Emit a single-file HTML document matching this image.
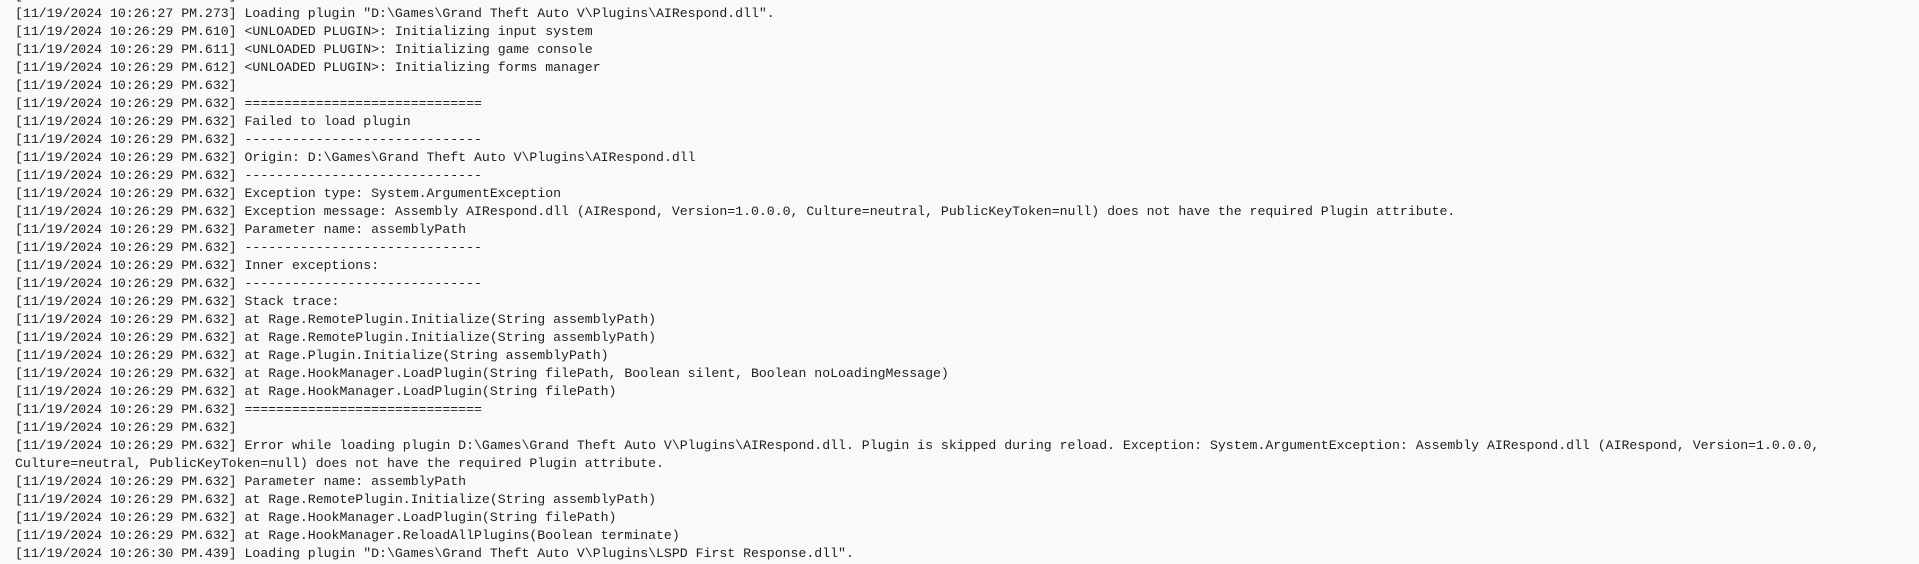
<!DOCTYPE html>
<html><head><meta charset="utf-8"><style>
html,body{margin:0;padding:0;width:1919px;height:564px;overflow:hidden;background:#f9f9f9;}
pre{position:absolute;left:15px;top:-13.5px;margin:0;font-family:"Liberation Mono",monospace;font-size:13.2px;line-height:18px;color:#1e1e1e;white-space:pre;}
</style></head><body><pre>[11/19/2024 10:26:27 PM.271] 
[11/19/2024 10:26:27 PM.273] Loading plugin "D:\Games\Grand Theft Auto V\Plugins\AIRespond.dll".
[11/19/2024 10:26:29 PM.610] &lt;UNLOADED PLUGIN&gt;: Initializing input system
[11/19/2024 10:26:29 PM.611] &lt;UNLOADED PLUGIN&gt;: Initializing game console
[11/19/2024 10:26:29 PM.612] &lt;UNLOADED PLUGIN&gt;: Initializing forms manager
[11/19/2024 10:26:29 PM.632] 
[11/19/2024 10:26:29 PM.632] ==============================
[11/19/2024 10:26:29 PM.632] Failed to load plugin
[11/19/2024 10:26:29 PM.632] ------------------------------
[11/19/2024 10:26:29 PM.632] Origin: D:\Games\Grand Theft Auto V\Plugins\AIRespond.dll
[11/19/2024 10:26:29 PM.632] ------------------------------
[11/19/2024 10:26:29 PM.632] Exception type: System.ArgumentException
[11/19/2024 10:26:29 PM.632] Exception message: Assembly AIRespond.dll (AIRespond, Version=1.0.0.0, Culture=neutral, PublicKeyToken=null) does not have the required Plugin attribute.
[11/19/2024 10:26:29 PM.632] Parameter name: assemblyPath
[11/19/2024 10:26:29 PM.632] ------------------------------
[11/19/2024 10:26:29 PM.632] Inner exceptions:
[11/19/2024 10:26:29 PM.632] ------------------------------
[11/19/2024 10:26:29 PM.632] Stack trace:
[11/19/2024 10:26:29 PM.632] at Rage.RemotePlugin.Initialize(String assemblyPath)
[11/19/2024 10:26:29 PM.632] at Rage.RemotePlugin.Initialize(String assemblyPath)
[11/19/2024 10:26:29 PM.632] at Rage.Plugin.Initialize(String assemblyPath)
[11/19/2024 10:26:29 PM.632] at Rage.HookManager.LoadPlugin(String filePath, Boolean silent, Boolean noLoadingMessage)
[11/19/2024 10:26:29 PM.632] at Rage.HookManager.LoadPlugin(String filePath)
[11/19/2024 10:26:29 PM.632] ==============================
[11/19/2024 10:26:29 PM.632] 
[11/19/2024 10:26:29 PM.632] Error while loading plugin D:\Games\Grand Theft Auto V\Plugins\AIRespond.dll. Plugin is skipped during reload. Exception: System.ArgumentException: Assembly AIRespond.dll (AIRespond, Version=1.0.0.0,
Culture=neutral, PublicKeyToken=null) does not have the required Plugin attribute.
[11/19/2024 10:26:29 PM.632] Parameter name: assemblyPath
[11/19/2024 10:26:29 PM.632] at Rage.RemotePlugin.Initialize(String assemblyPath)
[11/19/2024 10:26:29 PM.632] at Rage.HookManager.LoadPlugin(String filePath)
[11/19/2024 10:26:29 PM.632] at Rage.HookManager.ReloadAllPlugins(Boolean terminate)
[11/19/2024 10:26:30 PM.439] Loading plugin "D:\Games\Grand Theft Auto V\Plugins\LSPD First Response.dll".</pre></body></html>
